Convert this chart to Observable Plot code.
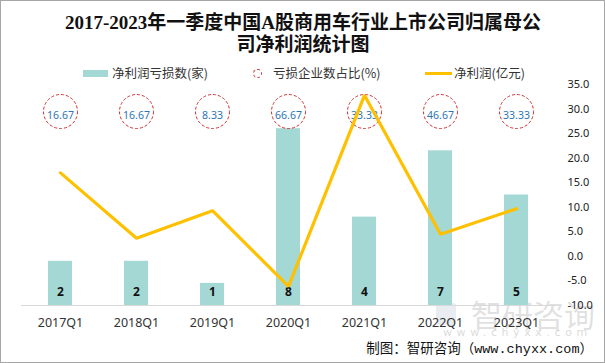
<!DOCTYPE html>
<html>
<head>
<meta charset="utf-8">
<script src="https://cdn.jsdelivr.net/npm/d3@7"></script>
<script src="https://cdn.jsdelivr.net/npm/@observablehq/plot@0.6"></script>
<style>
  body { margin: 0; background: #fff; }
  #wrap { position: relative; width: 605px; height: 363px; background: #fff; overflow: hidden;
          font-family: "Noto Sans CJK SC", "Noto Sans", sans-serif; }
  .abs { position: absolute; white-space: nowrap; }
  .title { left: 0; width: 606px; text-align: center; font-family: "Liberation Serif", "Noto Sans CJK SC", serif;
           font-weight: 700; font-size: 19px; line-height: 22px; color: #111; }
  .leg { font-size: 12.5px; color: #333; line-height: 16px; }
</style>
</head>
<body>
<div id="wrap">
  <div class="abs" style="left:436px;top:303px;width:20px;height:22px;border-radius:3px;background:rgba(175,190,210,0.28);"></div>
  <div class="abs" style="left:471px;top:301px;font-size:31px;line-height:26px;color:rgba(160,160,160,0.33);">智研咨询</div>
  <div class="abs" style="left:443px;top:327px;font-size:11px;line-height:12px;color:rgba(160,160,160,0.4);letter-spacing:4.6px;font-family:'DejaVu Sans';">www.chyxx.com</div>
  <div id="chart" class="abs" style="left:0;top:0;"></div>
  <div class="abs title" style="top:12px;">2017-2023年一季度中国A股商用车行业上市公司归属母公</div>
  <div class="abs title" style="top:34px;">司净利润统计图</div>

  <div class="abs" style="left:83px;top:70px;width:25px;height:7px;background:#a3d8d5;"></div>
  <div class="abs leg" style="left:112px;top:65px;">净利润亏损数(家)</div>
  <div class="abs" style="left:253px;top:69px;width:7px;height:7px;border:1px dashed #d62d2d;border-radius:50%;"></div>
  <div class="abs leg" style="left:273px;top:65px;">亏损企业数占比(%)</div>
  <div class="abs" style="left:425px;top:72px;width:27px;height:3px;background:#ffc000;"></div>
  <div class="abs leg" style="left:454px;top:65px;">净利润(亿元)</div>

  <div class="abs" style="right:12px;top:341px;font-size:13.5px;line-height:18px;color:#111;font-family:'Liberation Mono','Noto Sans CJK SC',monospace;">制图：智研咨询（www.chyxx.com）</div>
  <div class="abs" style="left:0;top:0;width:605px;height:363px;box-sizing:border-box;border:1px solid #a6a6a6;pointer-events:none;"></div>
</div>
<script>
const quarters = ["2017Q1", "2018Q1", "2019Q1", "2020Q1", "2021Q1", "2022Q1", "2023Q1"];
const lossCounts = [2, 2, 1, 8, 4, 7, 5];          // 净利润亏损数(家)
const lossShares = [16.67, 16.67, 8.33, 66.67, 33.33, 46.67, 33.33]; // 亏损企业数占比(%)
const netProfit = [17.0, 3.7, 9.3, -6.1, 32.8, 4.5, 9.7];           // 净利润(亿元)
const rightTicks = [-10, -5, 0, 5, 10, 15, 20, 25, 30, 35];

// left (hidden) axis for counts: 0..10 mapped onto right axis -10..35
const countToY = c => -10 + c * 4.5;

const data = quarters.map((q, i) => ({
  q, count: lossCounts[i], share: lossShares[i], profit: netProfit[i]
}));

const chart = Plot.plot({
  width: 605,
  height: 363,
  marginTop: 84,
  marginBottom: 58,
  marginLeft: 21,
  marginRight: 50,
  style: { background: "transparent", color: "#222", fontFamily: "'Noto Sans', 'Noto Sans CJK SC', sans-serif", fontSize: "11px" },
  x: { type: "band", domain: quarters, paddingInner: 0.69, paddingOuter: 0.345 },
  y: { domain: [-10, 35] },
  marks: [
    Plot.barY(data, { x: "q", y1: -10, y2: d => countToY(d.count), fill: "#a3d8d5" }),
    Plot.ruleY([-10], { stroke: "#d9d9d9", strokeWidth: 1 }),
    Plot.text(data, { x: "q", y: -10, dy: -13, text: d => String(d.count), fontWeight: "bold", fontSize: 12, fill: "#111" }),
    Plot.dot(data, { x: "q", frameAnchor: "top", dy: 27, r: 17, stroke: "#d62d2d", strokeWidth: 1, strokeDasharray: "3,2", fill: "none" }),
    Plot.text(data, { x: "q", frameAnchor: "top", dy: 27, text: d => d.share.toFixed(2), fontSize: 10.5, fill: "#2e75b6" }),
    Plot.line(data, { x: "q", y: "profit", stroke: "#ffc000", strokeWidth: 3.2, strokeLinejoin: "miter" }),
    Plot.axisY({ anchor: "right", ticks: rightTicks, tickSize: 0, tickPadding: 12, tickFormat: d => d.toFixed(1), label: null, fontSize: 11 }),
    Plot.axisX({ tickSize: 0, tickPadding: 13, label: null, fontSize: 12.5, fill: "#333" })
  ]
});
document.getElementById("chart").appendChild(chart);
</script>
</body>
</html>
